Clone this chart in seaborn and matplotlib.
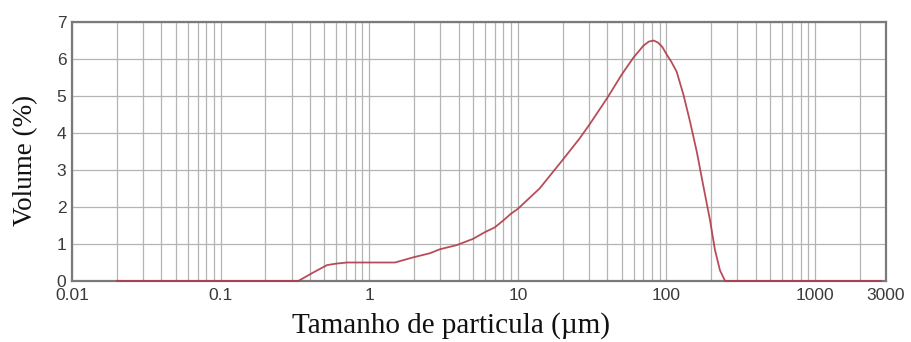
import matplotlib
matplotlib.use("Agg")
import matplotlib.pyplot as plt
import seaborn as sns
import numpy as np
import pandas as pd
from matplotlib.ticker import FixedLocator, NullFormatter

sizes = [0.02, 0.1, 0.333, 0.42, 0.52, 0.6, 0.71, 1.0, 1.49, 1.98, 2.56, 3.0,
         3.88, 5, 6, 7, 8, 9, 10, 14, 20, 26, 30, 40, 50, 60, 70, 76, 82, 88,
         94, 100, 108, 117, 130, 144, 160, 177, 196, 212, 229, 248, 1000, 2800]
volumes = [0, 0, 0, 0.23, 0.43, 0.47, 0.5, 0.5, 0.5, 0.64, 0.75, 0.86,
           0.97, 1.14, 1.32, 1.45, 1.64, 1.82, 1.95, 2.5, 3.27, 3.85, 4.2, 4.95,
           5.58, 6.04, 6.36, 6.47, 6.5, 6.44, 6.32, 6.13, 5.92, 5.66, 5.04,
           4.31, 3.49, 2.57, 1.66, 0.84, 0.29, 0, 0, 0]
x_ticks = [0.01, 0.1, 1, 10, 100, 1000, 3000]
x_tick_labels = ["0.01", "0.1", "1", "10", "100", "1000", "3000"]
y_ticks = [0, 1, 2, 3, 4, 5, 6, 7]

sns.set_style("white")
plt.rcParams['font.family'] = ['Liberation Sans', 'DejaVu Sans']

df = pd.DataFrame({"size": sizes, "volume": volumes})

fig = plt.figure(figsize=(9.11, 3.42), dpi=100)
ax = fig.add_axes([72/911, 1-281/342, (886-72)/911, (281-22)/342])

ax.set_xscale("log")
ax.set_xlim(0.01, 3000)
ax.set_ylim(0, 7)

# grid lines: decades and 2..9 multiples
minor = []
for d in [0.01, 0.1, 1, 10, 100, 1000]:
    for m in range(2, 10):
        v = d * m
        if v < 3000:
            minor.append(v)
ax.xaxis.set_minor_locator(FixedLocator(minor))
ax.xaxis.set_minor_formatter(NullFormatter())
ax.set_xticks(x_ticks)
ax.set_xticklabels(x_tick_labels)
ax.set_yticks(y_ticks)
ax.grid(True, which="both", axis="x", color="#b4b4b4", linewidth=0.9)
ax.grid(True, which="major", axis="y", color="#b4b4b4", linewidth=0.9)
ax.set_axisbelow(True)

for s in ax.spines.values():
    s.set_color("#7a7a7a")
    s.set_linewidth(1.6)

sns.lineplot(data=df, x="size", y="volume", ax=ax, color="#b03a48",
             linewidth=1.3, estimator=None, sort=False)
for ln in ax.lines:
    ln.set_zorder(5)
    ln.set_clip_on(False)
    ln.set_alpha(0.9)

ax.tick_params(axis="both", which="both", length=0, labelsize=12.5,
               labelcolor="#3a3a3a", pad=4)
ax.tick_params(axis="x", pad=5)

ax.set_xlabel("Tamanho de particula (µm)", family=["Liberation Serif"],
              fontsize=21, color="#111111")
ax.xaxis.set_label_coords((451 - 72) / 814, -(333 - 281) / 259, transform=ax.transAxes)
ax.xaxis.label.set_va("baseline")
ax.set_ylabel("Volume (%)", family=["Liberation Serif"], fontsize=19.5,
              color="#111111")
ax.yaxis.set_label_coords(-(72 - 26) / 814, (281 - 160) / 259, transform=ax.transAxes)
ax.yaxis.label.set_va("center")

fig.savefig("out.png", dpi=100, facecolor="white")
